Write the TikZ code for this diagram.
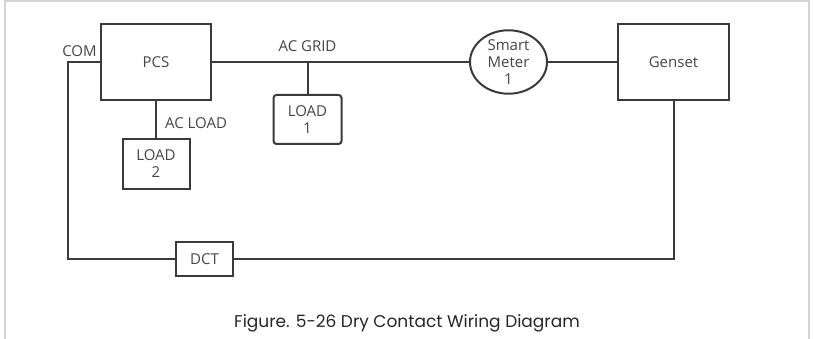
\documentclass[tikz,border=0pt]{standalone}
\usepackage{fontspec}
\setmainfont{Open Sans}
\newfontfamily\captionfont{Poppins}
\usetikzlibrary{shapes.geometric, positioning}
\definecolor{wire}{HTML}{3A3A3A}
\definecolor{label}{HTML}{454545}
\definecolor{frame}{HTML}{D4D4D4}
\tikzset{
    unit/.style={rectangle, draw=wire, line width=2pt, inner sep=0pt, outer sep=0pt, text=label, font=\fontsize{15}{17}\selectfont, align=center},
    bigbox/.style={unit, minimum width=110pt, minimum height=76pt},
    loadbox/.style={unit, minimum width=68pt, minimum height=49pt},
    meter/.style={unit, ellipse, minimum width=77pt, minimum height=58pt},
    wireline/.style={draw=wire, line width=2pt},
    tag/.style={text=label, font=\fontsize{15}{17}\selectfont, inner sep=0pt}
}
\begin{document}
\begin{tikzpicture}[x=1pt, y=-1pt]
\useasboundingbox (0,0) rectangle (814,339);

% Frame
\draw[frame, line width=2pt] (5,339) -- (5,1) -- (809,1) -- (809,339);

% Units
\node (pcs) [bigbox] at (156,62) {PCS};
\node (meter) [meter, right=259pt of pcs, font=\fontsize{15}{17}\selectfont] {Smart\\Meter\\1};
\node (genset) [bigbox, right=71pt of meter, minimum width=111pt] {Genset};
\node (load1) [loadbox, rounded corners=3pt] at (307.5,119.5) {LOAD\\1};
\node (load2) [loadbox, below=39pt of pcs, minimum width=67pt, minimum height=50pt] {LOAD\\2};
\node (dct) [unit, minimum width=57pt, minimum height=34pt] at (204.5,259) {DCT};

% Junctions
\coordinate (com) at (68,62);
\coordinate (tap) at (load1.north |- pcs.east);

% AC wiring
\draw [wireline] (pcs.east) -- (meter.west);
\draw [wireline] (meter.east) -- (genset.west);
\draw [wireline] (tap) -- (load1.north);
\draw [wireline] (pcs.south -| load2.north) -- (load2.north);

% Dry contact loop
\draw [wireline] (pcs.west) -- (com) |- (dct.west);
\draw [wireline] (dct.east) -| (genset.south);

% Labels
\node [tag] at (79.5,51) {COM};
\node [tag] at (307.5,46) {AC GRID};
\node [tag] at (196,123) {AC LOAD};
\node [text=black!85, font=\captionfont\fontsize{17}{20}\selectfont, inner sep=0pt] at (407,323) {Figure. 5-26 Dry Contact Wiring Diagram};

\end{tikzpicture}
\end{document}
